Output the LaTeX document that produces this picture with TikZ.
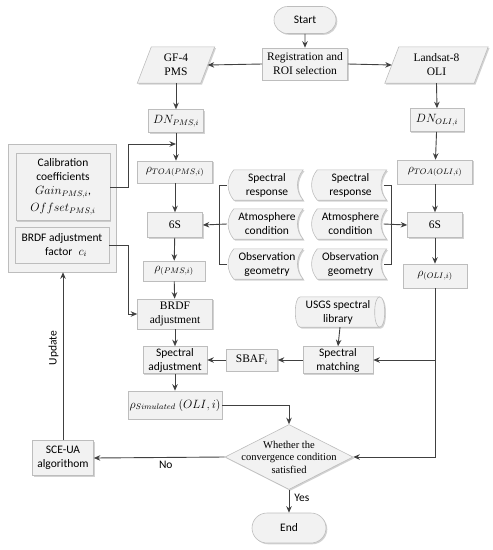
\documentclass[tikz,border=0pt]{standalone}
\usepackage{fontspec}
\setmainfont{Liberation Serif}
\newfontfamily\calib{Carlito}
\usetikzlibrary{shapes.geometric,shapes.misc,shadows,arrows.meta,calc}
\definecolor{boxfill}{HTML}{F2F2F2}
\definecolor{boxdraw}{HTML}{BDBDBD}
\definecolor{arrcol}{HTML}{404040}
\tikzset{
  txt/.style={font=\fontsize{11.5}{14}\selectfont, text=black, align=center, inner sep=1pt},
  sans/.style={txt, font=\calib\fontsize{11.5}{14}\selectfont},
  shd/.style={drop shadow={shadow xshift=1.3pt, shadow yshift=-1.3pt, fill=black!35, opacity=0.5}},
  box/.style={txt, rectangle, draw=boxdraw, fill=boxfill, line width=0.6pt, shd},
  shp/.style={draw=boxdraw, fill=boxfill, line width=0.6pt, shd},
  blank/.style={rectangle, inner sep=0pt, draw=none},
  term/.style={rounded rectangle, draw=boxdraw, fill=boxfill, line width=0.6pt, shd, sans},
  arr/.style={draw=arrcol, line width=0.9pt, -{Stealth[length=6.5pt,width=5.5pt]}},
  ln/.style={draw=arrcol, line width=0.9pt},
}
\begin{document}
\begin{tikzpicture}[x=1pt, y=-1pt]
\useasboundingbox (0,0) rectangle (493,550);

% group box
\node[blank, shp, minimum width=108pt, minimum height=128pt] (grp) at (62,208) {};

% top
\node[term, minimum width=64pt, minimum height=27pt] (start) at (305,20) {Start};
\node[box, minimum width=85pt, minimum height=32pt] (reg) at (305,64) {Registration and\\ROI selection};

% parallelograms
\node[blank, minimum width=63pt, minimum height=36pt] (gf) at (176,65) {};
\draw[shp] ($(gf.north west)+(7,0)$) -- ($(gf.north east)+(7,0)$) -- ($(gf.south east)+(-7,0)$) -- ($(gf.south west)+(-7,0)$) -- cycle;
\node[txt] at (gf) {GF-4\\PMS};
\node[blank, minimum width=89pt, minimum height=36pt] (lan) at (436.5,65) {};
\draw[shp] ($(lan.north west)+(7,0)$) -- ($(lan.north east)+(7,0)$) -- ($(lan.south east)+(-7,0)$) -- ($(lan.south west)+(-7,0)$) -- cycle;
\node[txt] at (lan) {Landsat-8\\OLI};

% left column
\node[box, minimum width=55pt, minimum height=23pt] (dnp) at (176,121) {$DN_{PMS,i}$};
\node[box, minimum width=75pt, minimum height=22pt] (rtp) at (175,172) {$\rho_{TOA(PMS,i)}$};
\node[box, minimum width=55pt, minimum height=25pt] (sp) at (175,225) {6S};
\node[box, minimum width=62pt, minimum height=20pt] (rp) at (174,271) {$\rho_{(PMS,i)}$};
\node[box, minimum width=75pt, minimum height=30pt] (brdf) at (175,314) {BRDF\\adjustment};
\node[box, sans, minimum width=64pt, minimum height=27pt] (sadj) at (175,360) {Spectral\\adjustment};
\node[box, minimum width=94pt, minimum height=28pt] (rsim) at (175,405) {$\rho_{Simulated}\ (OLI,i)$};

% right column
\node[box, minimum width=54pt, minimum height=23pt] (dno) at (437,120) {$DN_{OLI,i}$};
\node[box, minimum width=75pt, minimum height=24pt] (rto) at (435,172) {$\rho_{TOA(OLI,i)}$};
\node[box, minimum width=55pt, minimum height=25pt] (so) at (435,225) {6S};
\node[box, minimum width=64pt, minimum height=24pt] (ro) at (435,276) {$\rho_{(OLI,i)}$};

% calibration group
\node[box, sans, minimum width=94pt, minimum height=67pt] (cal) at (63,187) {Calibration\\coefficients\\$Gain_{PMS,i}$,\\[3pt]$Offset_{PMS,i}$};
\node[box, sans, minimum width=94pt, minimum height=36pt] (bf) at (62,245) {BRDF adjustment\\\hspace*{8pt}factor\hspace{6pt}$c_i$};

% tapes (stored data)
\foreach \nm/\cx/\cy/\t in {sr1/265/185/{Spectral\\response}, ac1/265/224/{Atmosphere\\condition}, og1/265/264/{Observation\\geometry}, sr2/348.5/185/{Spectral\\response}, ac2/348.5/224/{Atmosphere\\condition}, og2/348.5/264/{Observation\\geometry}}{
  \node[blank, minimum width=76pt, minimum height=30pt] (\nm) at (\cx,\cy) {};
  \draw[shp] ($(\nm.north west)+(7,0)$) -- (\nm.north east) to[bend right=40] (\nm.south east) -- ($(\nm.south west)+(7,0)$) to[bend left=40] ($(\nm.north west)+(7,0)$) -- cycle;
  \node[sans] at ($(\nm)+(2,0)$) {\t};
}

% USGS cylinder (horizontal)
\node[blank, minimum width=89pt, minimum height=30pt] (usgs) at (340,312) {};
\draw[shp] ($(usgs.north west)+(5,0)$) -- ($(usgs.north east)+(-5,0)$)
  .. controls ($(usgs.north east)+(1.67,0)$) and ($(usgs.south east)+(1.67,0)$) .. ($(usgs.south east)+(-5,0)$)
  -- ($(usgs.south west)+(5,0)$)
  .. controls ($(usgs.south west)+(-1.67,0)$) and ($(usgs.north west)+(-1.67,0)$) .. ($(usgs.north west)+(5,0)$) -- cycle;
\draw[draw=boxdraw, line width=0.6pt] ($(usgs.north east)+(-5,0)$)
  .. controls ($(usgs.north east)+(-11.67,0)$) and ($(usgs.south east)+(-11.67,0)$) .. ($(usgs.south east)+(-5,0)$);
\node[sans] at ($(usgs)+(-2,0)$) {USGS spectral\\library};

\node[box, sans, minimum width=70pt, minimum height=27pt] (sm) at (338,360) {Spectral\\matching};
\node[box, minimum width=51pt, minimum height=22pt] (sbaf) at (252,360) {SBAF$_i$};

% decision
\node[diamond, draw=boxdraw, fill=boxfill, line width=0.6pt, shd, minimum width=128pt, minimum height=65pt, inner sep=0pt] (dec) at (289,457) {};
\node[txt, font=\fontsize{10.5}{12.5}\selectfont] at (dec) {Whether the\\convergence condition\\satisfied};

\node[term, minimum width=76pt, minimum height=30pt] (end) at (289,528) {End};
\node[box, sans, minimum width=61pt, minimum height=35pt] (sce) at (63,458) {SCE-UA\\algorithom};

% connectors
\draw[arr] (start) -- (reg);
\draw[arr] (reg.west) -- (gf.east);
\draw[arr] (reg.east) -- (lan.west);
\draw[arr] (gf.south) -- (dnp.north);
\draw[arr] (lan.south) -- (dno.north);
\draw[arr] (dnp.south) -- (rtp.north -| dnp.south);
\coordinate (j1) at (176,144);
\draw[arr] (cal.east) -- ++(18,0) |- (j1);
\draw[arr] (rtp) -- (sp);
\draw[arr] (sp) -- (rp);
\draw[arr] (rp) -- (brdf);
\draw[arr] (bf.east) -- ++(19,0) |- (brdf.west);
\draw[arr] (brdf) -- (sadj);
\draw[arr] (sadj) -- (rsim);
\draw[arr] (rsim.east) -| (dec.north);
\draw[arr] (dec.south) -- node[sans, right=4pt, pos=0.35] {Yes} (end.north);
\draw[arr] (dec.west) -- node[sans, below=2pt, pos=0.45] {No} (sce.east);
\draw[arr] (sce.north) -- node[sans, rotate=90, above=3pt, pos=0.55] {Update} (grp.south -| sce.north);

\draw[arr] (dno) -- (rto);
\draw[arr] (rto) -- (so);
\draw[arr] (so) -- (ro);
\draw[arr] (ro.south) |- (dec.east);
\coordinate (j2) at (ro.south |- sm.east);
\draw[arr] (j2) -- (sm.east);
\draw[arr] (usgs.south) -- (sm.north);
\draw[arr] (sm.west) -- (sbaf.east);
\draw[arr] (sbaf.west) -- (sadj.east);

% brackets
\draw[ln] (sr1.west) -- ++(-7,0) |- (og1.west);
\draw[arr] (ac1.west) -- (sp.east);
\draw[ln] ($(sr2.east)+(-3,0)$) -- ++(8,0) |- ($(og2.east)+(-3,0)$);
\draw[arr] ($(ac2.east)+(-3,0)$) -- (so.west);
\end{tikzpicture}
\end{document}
